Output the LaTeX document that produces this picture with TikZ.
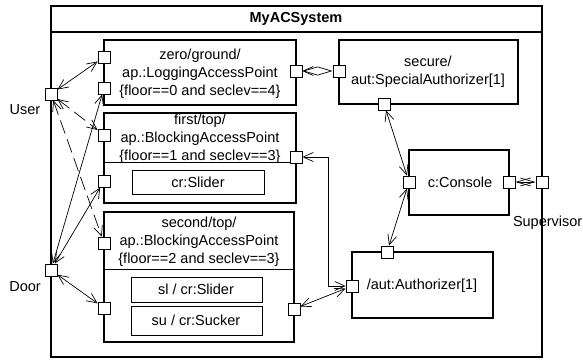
\documentclass[tikz,border=0pt]{standalone}
\usepackage{fontspec}
\setmainfont{Liberation Sans}
\usetikzlibrary{arrows.meta}
\begin{document}
\begin{tikzpicture}[x=1pt,y=-1pt,
  every node/.style={font=\fontsize{14.5}{18}\selectfont, inner sep=0pt},
  part/.style={draw, line width=1.2pt},
  thinpart/.style={draw, line width=1pt},
  port/.style={draw, fill=white, line width=0.8pt, minimum size=12pt, inner sep=0pt},
  barb/.tip={Straight Barb[length=10pt,width=9pt]},
  link/.style={line width=0.7pt, barb-barb},
  dlink/.style={link, dash pattern=on 14pt off 6pt},
]
\useasboundingbox (0,0) rectangle (583,359);

% enclosing system frame with its title band
\draw[line width=1.2pt] (51,6) rectangle (542,357);
\draw[line width=1.2pt] (51,32) -- (542,32);
\node[font=\fontsize{14.5}{18}\selectfont\bfseries] (title) at (296,19) {MyACSystem};

% parts
\draw[part] (104,40) rectangle (296,105);
\node[align=center] (t1) at (200,74) {zero/ground/\\ap.:LoggingAccessPoint\\\{floor==0 and seclev==4\}};

\draw[part] (104,113) rectangle (296,203);
\draw[line width=1pt] (104,162) -- (296,162);
\node[align=center] (t2) at (200,139) {first/top/\\ap.:BlockingAccessPoint\\\{floor==1 and seclev==3\}};
\draw[thinpart] (132,170) rectangle (264,194);
\node (t2a) at (198,182) {cr:Slider};

\draw[part] (104,212) rectangle (294,342);
\draw[line width=1pt] (104,269) -- (294,269);
\node[align=center] (t3) at (199,242) {second/top/\\ap.:BlockingAccessPoint\\\{floor==2 and seclev==3\}};
\draw[thinpart] (131,277) rectangle (262,302);
\node (t3a) at (196,289.5) {sl / cr:Slider};
\draw[thinpart] (131,306) rectangle (262,335);
\node (t3b) at (196,320.5) {su / cr:Sucker};

\draw[part] (339,40) rectangle (518,104);
\node[align=center] (t4) at (428,71.5) {secure/\\aut:SpecialAuthorizer[1]};

\draw[part] (409,150) rectangle (509,215);
\node (t5) at (460,182) {c:Console};

\draw[part] (352,252) rectangle (493,318);
\node (t6) at (422,286) {/aut:Authorizer[1]};

% bend points of the routed connector
\coordinate (k1) at (328,286);
\coordinate (k2) at (328,157);

% ports
\node[port] (u)    at (51,94)  {};
\node[port] (d)    at (51,270) {};
\node[port] (p1a)  at (104,57) {};
\node[port] (p1b)  at (104,88) {};
\node[port] (p1r)  at (296,71) {};
\node[port] (p2a)  at (104,135) {};
\node[port] (p2b)  at (104,181) {};
\node[port] (p2r)  at (296,157) {};
\node[port] (p3a)  at (104,243) {};
\node[port] (p3b)  at (104,308) {};
\node[port] (p3r)  at (294,309) {};
\node[port] (p4l)  at (339,71) {};
\node[port] (p4b)  at (384,104) {};
\node[port] (pcl)  at (409,182) {};
\node[port] (pcr)  at (509,182) {};
\node[port] (psup) at (542,182) {};
\node[port] (pal)  at (352,286) {};
\node[port] (pat)  at (387,252) {};

% port labels
\node (lu) at (25,110) {User};
\node (ld) at (25,287) {Door};
\node[anchor=east] (ls) at (582.5,223) {Supervisor};

% connectors
\draw[link] (u) -- (p1a);
\draw[dlink] (u) -- (p2a);
\draw[dlink] (u) -- (p3a);
\draw[link] (d) -- (p1b);
\draw[link] (d) -- (p2b);
\draw[link] (d) -- (p3b);
\draw[line width=0.7pt, barb-{Diamond[open,length=30pt,width=9pt]}] (p1r) -- (p4l);
\draw[link] (p4b) -- (pcl);
\draw[link] (pcl) -- (pat);
\draw[link] (pal) -- (p3r);
\draw[link] (pal) -- (k1) -- (k2) -- (p2r);
\draw[line width=0.7pt, {Straight Barb[length=14pt,width=8pt]}-{Straight Barb[length=14pt,width=8pt]}] (pcr) -- (psup);
\end{tikzpicture}
\end{document}
